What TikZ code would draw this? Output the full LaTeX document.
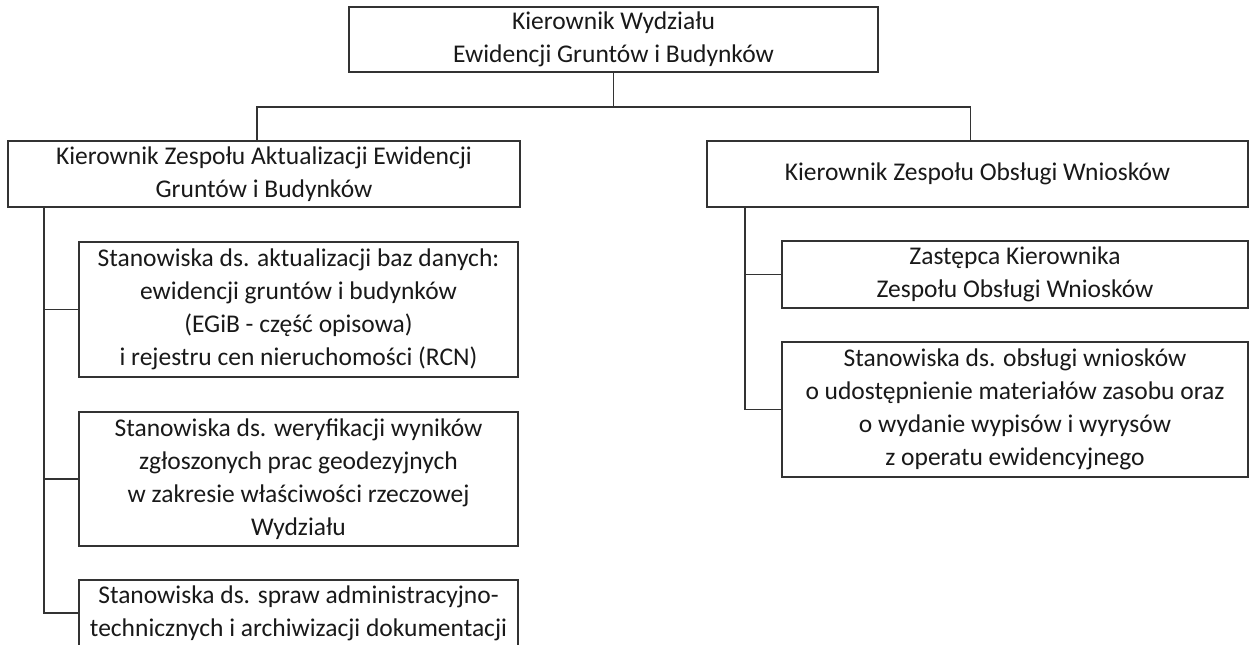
\documentclass[tikz,border=0pt]{standalone}
\usepackage{fontspec}
\setmainfont{Carlito}
\begin{document}
\begin{tikzpicture}[x=1pt,y=-1pt,
  orgbox/.style={draw=black!80, line width=1.2pt, rectangle, inner sep=0pt, outer sep=0pt,
    align=center, text=black!90, font=\fontsize{25.5}{33}\selectfont},
  link/.style={draw=black!80, line width=1.2pt}]
\useasboundingbox (0,0) rectangle (1250,645);
\fill[white] (0,0) rectangle (1250,645);

\node[orgbox, minimum width=529pt, minimum height=65pt] (top) at (613.5,39.5)
  {Kierownik Wydziału\\Ewidencji Gruntów i Budynków};

\node[orgbox, minimum width=512pt, minimum height=66pt] (L) at (264,174)
  {Kierownik Zespołu Aktualizacji Ewidencji\\Gruntów i Budynków};
\node[orgbox, minimum width=541pt, minimum height=66pt] (R) at (977.5,174)
  {Kierownik Zespołu Obsługi Wniosków};

\node[orgbox, minimum width=439pt, minimum height=135pt] (L1) at (298.5,309.5)
  {Stanowiska ds. aktualizacji baz danych:\\ewidencji gruntów i budynków\\(EGiB - część opisowa)\\i rejestru cen nieruchomości (RCN)};
\node[orgbox, minimum width=439pt, minimum height=134pt] (L2) at (298.5,479)
  {Stanowiska ds. weryfikacji wyników\\zgłoszonych prac geodezyjnych\\w zakresie właściwości rzeczowej\\Wydziału};
\node[orgbox, minimum width=439pt, minimum height=66pt] (L3) at (298.5,613)
  {Stanowiska ds. spraw administracyjno-\\technicznych i archiwizacji dokumentacji};

\node[orgbox, minimum width=466pt, minimum height=67pt] (R1) at (1015,274.5)
  {Zastępca Kierownika\\Zespołu Obsługi Wniosków};
\node[orgbox, minimum width=466pt, minimum height=135pt] (R2) at (1015,409.5)
  {Stanowiska ds. obsługi wniosków\\o udostępnienie materiałów zasobu oraz\\o wydanie wypisów i wyrysów\\z operatu ewidencyjnego};

\coordinate (hub) at (613.5,107);
\coordinate (lspine) at (44,0);
\coordinate (rspine) at (745,0);

\draw[link] (top.south) -- (hub);
\draw[link] ([xshift=-7pt]L.north) |- (hub) -| ([xshift=-7pt]R.north);

\draw[link] (L.south -| lspine) |- (L3.west);
\draw[link] (L1.west) -- (L1.west -| lspine);
\draw[link] (L2.west) -- (L2.west -| lspine);

\draw[link] (R.south -| rspine) |- (R2.west);
\draw[link] (R1.west) -- (R1.west -| rspine);
\end{tikzpicture}
\end{document}
